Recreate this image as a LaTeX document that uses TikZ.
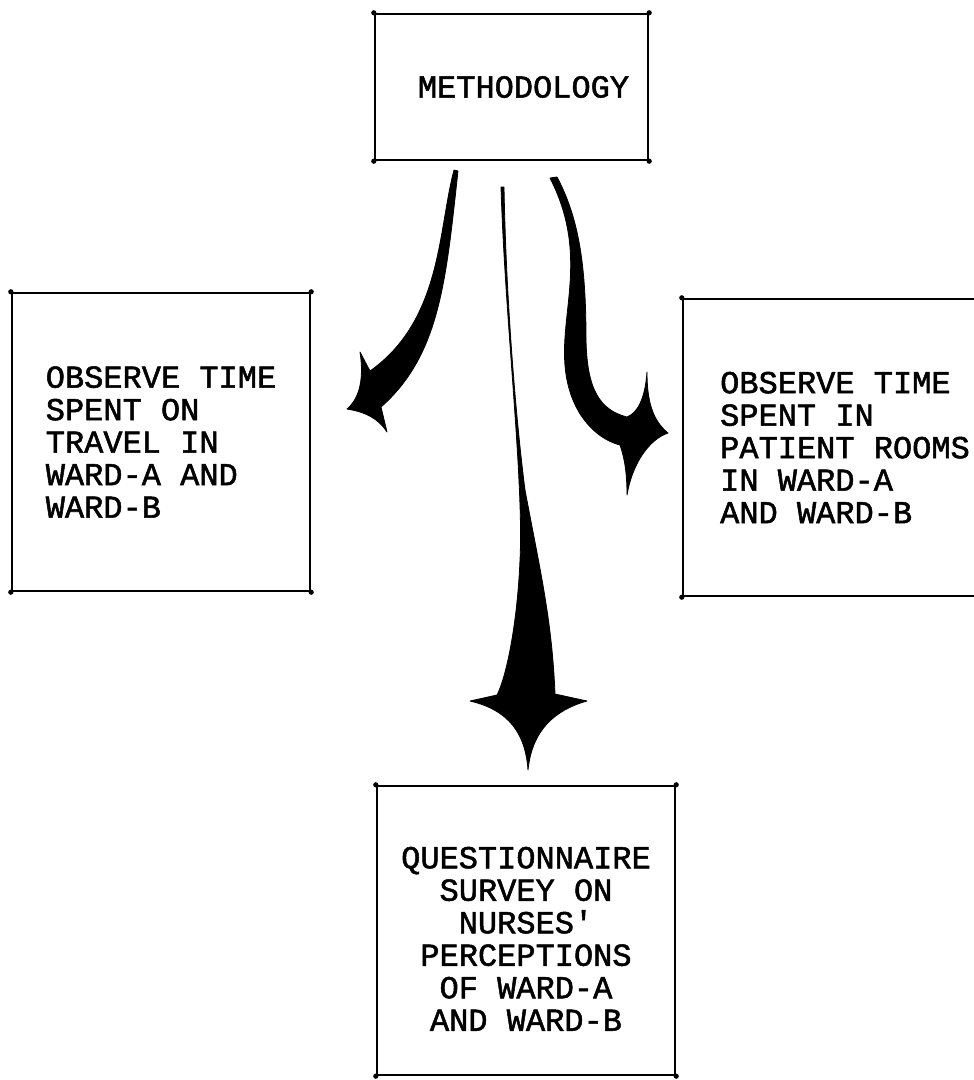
\documentclass[tikz,border=0pt]{standalone}
\usepackage{fontspec}
\setmonofont[FakeBold=1.6]{Liberation Mono}
\tikzstyle{box} = [rectangle, 
draw=black, 
line width=2.4pt,
minimum width=298pt, 
minimum height=298pt,
inner sep=0pt,
text centered, 
font=\ttfamily\fontsize{32}{32.5}\selectfont]
\tikzstyle{topbox} = [box, 
minimum width=273pt, 
minimum height=146pt]
\tikzstyle{bigarrow} = [fill=black, 
draw=black, 
line width=0.8pt, 
line join=round]

\begin{document}
\begin{tikzpicture}[x=1pt, y=-1pt]
		\path[use as bounding box, clip] (0,0) rectangle (974,1080);
		\node (meth) [topbox] at (511.5,87) {\hspace*{24pt}METHODOLOGY};
		\node (travel) [box, align=left, below of=meth, node distance=355pt, xshift=-350.5pt] {OBSERVE TIME\\SPENT ON\\TRAVEL IN\\WARD-A AND\\WARD-B};
		\node (rooms) [box, align=left, minimum width=324pt, minimum height=297pt, below of=meth, node distance=360.5pt, xshift=333.5pt] {OBSERVE TIME\\SPENT IN\\PATIENT ROOMS\\IN WARD-A\\AND WARD-B};
		\node (survey) [box, align=center, minimum height=289pt, below of=meth, node distance=843.5pt, xshift=14.5pt] {\rule{0pt}{38pt}QUESTIONNAIRE\\SURVEY ON\\NURSES'\\PERCEPTIONS\\OF WARD-A\\AND WARD-B};
		% little ink blobs at the corners
		\foreach \n in {meth,travel,rooms,survey}
			\foreach \a in {north west,north east,south west,south east}
				\fill (\n.\a) circle (2.6pt);
		
		% meth -> travel
		\fill[bigarrow] (454,170) .. controls (438,230) and (442,320) .. (370,371) -- (360,352) .. controls (364,378) and (360,398) .. (347,409) .. controls (365,412) and (378,418) .. (387,432) -- (381,407) .. controls (440,355) and (446,280) .. (458,171) -- cycle;
		% meth -> rooms
		\fill[bigarrow] (550,178) .. controls (592,260) and (555,320) .. (567,380) .. controls (575,420) and (600,440) .. (620,445) .. controls (626,462) and (627,480) .. (627,495) .. controls (632,465) and (648,440) .. (668,433) .. controls (652,420) and (647,400) .. (647,372) .. controls (645,400) and (637,413) .. (627,417) .. controls (600,410) and (587,390) .. (586,340) .. controls (586,270) and (580,220) .. (557,177) -- cycle;
		% meth -> survey
		\fill[bigarrow] (501,187) .. controls (505,320) and (524,480) .. (520,560) .. controls (517,630) and (505,680) .. (497,695) -- (470,701) .. controls (500,708) and (525,725) .. (528,770) .. controls (532,730) and (555,710) .. (587,701) -- (555,694) .. controls (552,620) and (540,570) .. (525,490) .. controls (516,420) and (506,300) .. (504,187) -- cycle;
	\end{tikzpicture}
\end{document}
